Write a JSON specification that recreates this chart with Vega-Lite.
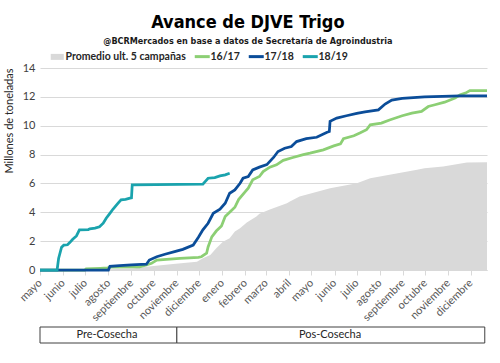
{
  "$schema": "https://vega.github.io/schema/vega-lite/v6.json",
  "background": "white",
  "padding": {"left": 3, "top": 14, "right": 13, "bottom": 14},
  "title": {
    "text": "Avance de DJVE Trigo",
    "subtitle": "@BCRMercados en base a datos de Secretaría de Agroindustria",
    "anchor": "middle",
    "font": "DejaVu Sans Condensed, Roboto, sans-serif",
    "fontSize": 18,
    "fontWeight": "bold",
    "color": "#000000",
    "subtitleFont": "DejaVu Sans Condensed, Roboto, sans-serif",
    "subtitleFontSize": 9,
    "subtitleFontWeight": "bold",
    "subtitleColor": "#1a1a1a",
    "subtitlePadding": 5,
    "offset": 5
  },
  "datasets": {
    "avance": [
      {"serie": "Promedio ult. 5 campañas", "fecha": "2018-05-01", "valor": 0},
      {"serie": "Promedio ult. 5 campañas", "fecha": "2018-07-21", "valor": 0},
      {"serie": "Promedio ult. 5 campañas", "fecha": "2018-08-03", "valor": 0.05},
      {"serie": "Promedio ult. 5 campañas", "fecha": "2018-09-03", "valor": 0.1},
      {"serie": "Promedio ult. 5 campañas", "fecha": "2018-09-21", "valor": 0.23},
      {"serie": "Promedio ult. 5 campañas", "fecha": "2018-10-27", "valor": 0.42},
      {"serie": "Promedio ult. 5 campañas", "fecha": "2018-11-28", "valor": 0.58},
      {"serie": "Promedio ult. 5 campañas", "fecha": "2018-12-06", "valor": 0.81},
      {"serie": "Promedio ult. 5 campañas", "fecha": "2018-12-16", "valor": 1.04},
      {"serie": "Promedio ult. 5 campañas", "fecha": "2018-12-24", "valor": 1.5},
      {"serie": "Promedio ult. 5 campañas", "fecha": "2019-01-02", "valor": 1.96},
      {"serie": "Promedio ult. 5 campañas", "fecha": "2019-01-11", "valor": 2.2},
      {"serie": "Promedio ult. 5 campañas", "fecha": "2019-01-18", "valor": 2.66},
      {"serie": "Promedio ult. 5 campañas", "fecha": "2019-01-25", "valor": 2.89},
      {"serie": "Promedio ult. 5 campañas", "fecha": "2019-02-03", "valor": 3.3},
      {"serie": "Promedio ult. 5 campañas", "fecha": "2019-02-16", "valor": 3.7},
      {"serie": "Promedio ult. 5 campañas", "fecha": "2019-02-20", "valor": 3.9},
      {"serie": "Promedio ult. 5 campañas", "fecha": "2019-03-06", "valor": 4.2},
      {"serie": "Promedio ult. 5 campañas", "fecha": "2019-03-29", "valor": 4.63},
      {"serie": "Promedio ult. 5 campañas", "fecha": "2019-04-02", "valor": 4.75},
      {"serie": "Promedio ult. 5 campañas", "fecha": "2019-04-15", "valor": 5.1},
      {"serie": "Promedio ult. 5 campañas", "fecha": "2019-05-26", "valor": 5.67},
      {"serie": "Promedio ult. 5 campañas", "fecha": "2019-07-01", "valor": 6.01},
      {"serie": "Promedio ult. 5 campañas", "fecha": "2019-07-19", "valor": 6.36},
      {"serie": "Promedio ult. 5 campañas", "fecha": "2019-08-14", "valor": 6.6},
      {"serie": "Promedio ult. 5 campañas", "fecha": "2019-09-20", "valor": 6.94},
      {"serie": "Promedio ult. 5 campañas", "fecha": "2019-09-30", "valor": 7.06},
      {"serie": "Promedio ult. 5 campañas", "fecha": "2019-10-25", "valor": 7.17},
      {"serie": "Promedio ult. 5 campañas", "fecha": "2019-11-26", "valor": 7.45},
      {"serie": "Promedio ult. 5 campañas", "fecha": "2019-12-23", "valor": 7.47},

      {"serie": "16/17", "fecha": "2018-05-01", "valor": 0},
      {"serie": "16/17", "fecha": "2018-06-30", "valor": 0},
      {"serie": "16/17", "fecha": "2018-07-02", "valor": 0.08},
      {"serie": "16/17", "fecha": "2018-07-21", "valor": 0.12},
      {"serie": "16/17", "fecha": "2018-07-31", "valor": 0.15},
      {"serie": "16/17", "fecha": "2018-08-03", "valor": 0.2},
      {"serie": "16/17", "fecha": "2018-09-12", "valor": 0.22},
      {"serie": "16/17", "fecha": "2018-09-21", "valor": 0.35},
      {"serie": "16/17", "fecha": "2018-09-28", "valor": 0.46},
      {"serie": "16/17", "fecha": "2018-10-05", "valor": 0.69},
      {"serie": "16/17", "fecha": "2018-10-18", "valor": 0.74},
      {"serie": "16/17", "fecha": "2018-11-05", "valor": 0.81},
      {"serie": "16/17", "fecha": "2018-11-30", "valor": 0.88},
      {"serie": "16/17", "fecha": "2018-12-04", "valor": 0.92},
      {"serie": "16/17", "fecha": "2018-12-11", "valor": 1.16},
      {"serie": "16/17", "fecha": "2018-12-13", "valor": 1.6},
      {"serie": "16/17", "fecha": "2018-12-18", "valor": 2.3},
      {"serie": "16/17", "fecha": "2018-12-24", "valor": 2.7},
      {"serie": "16/17", "fecha": "2018-12-31", "valor": 3.05},
      {"serie": "16/17", "fecha": "2019-01-05", "valor": 3.7},
      {"serie": "16/17", "fecha": "2019-01-11", "valor": 4.0},
      {"serie": "16/17", "fecha": "2019-01-18", "valor": 4.35},
      {"serie": "16/17", "fecha": "2019-01-23", "valor": 4.88},
      {"serie": "16/17", "fecha": "2019-02-01", "valor": 5.43},
      {"serie": "16/17", "fecha": "2019-02-05", "valor": 5.67},
      {"serie": "16/17", "fecha": "2019-02-11", "valor": 6.25},
      {"serie": "16/17", "fecha": "2019-02-20", "valor": 6.48},
      {"serie": "16/17", "fecha": "2019-02-25", "valor": 6.82},
      {"serie": "16/17", "fecha": "2019-03-06", "valor": 7.13},
      {"serie": "16/17", "fecha": "2019-03-15", "valor": 7.29},
      {"serie": "16/17", "fecha": "2019-03-24", "valor": 7.6},
      {"serie": "16/17", "fecha": "2019-04-06", "valor": 7.8},
      {"serie": "16/17", "fecha": "2019-04-20", "valor": 8.0},
      {"serie": "16/17", "fecha": "2019-04-29", "valor": 8.1},
      {"serie": "16/17", "fecha": "2019-05-17", "valor": 8.33},
      {"serie": "16/17", "fecha": "2019-05-31", "valor": 8.6},
      {"serie": "16/17", "fecha": "2019-06-09", "valor": 8.74},
      {"serie": "16/17", "fecha": "2019-06-13", "valor": 9.1},
      {"serie": "16/17", "fecha": "2019-06-27", "valor": 9.3},
      {"serie": "16/17", "fecha": "2019-07-05", "valor": 9.49},
      {"serie": "16/17", "fecha": "2019-07-14", "valor": 9.72},
      {"serie": "16/17", "fecha": "2019-07-19", "valor": 10.06},
      {"serie": "16/17", "fecha": "2019-08-03", "valor": 10.18},
      {"serie": "16/17", "fecha": "2019-08-14", "valor": 10.4},
      {"serie": "16/17", "fecha": "2019-08-31", "valor": 10.69},
      {"serie": "16/17", "fecha": "2019-09-13", "valor": 10.87},
      {"serie": "16/17", "fecha": "2019-09-26", "valor": 10.99},
      {"serie": "16/17", "fecha": "2019-10-05", "valor": 11.33},
      {"serie": "16/17", "fecha": "2019-10-14", "valor": 11.45},
      {"serie": "16/17", "fecha": "2019-10-27", "valor": 11.63},
      {"serie": "16/17", "fecha": "2019-11-10", "valor": 11.92},
      {"serie": "16/17", "fecha": "2019-11-17", "valor": 12.14},
      {"serie": "16/17", "fecha": "2019-11-24", "valor": 12.26},
      {"serie": "16/17", "fecha": "2019-11-30", "valor": 12.44},
      {"serie": "16/17", "fecha": "2019-12-23", "valor": 12.44},

      {"serie": "17/18", "fecha": "2018-05-01", "valor": 0},
      {"serie": "17/18", "fecha": "2018-08-01", "valor": 0},
      {"serie": "17/18", "fecha": "2018-08-03", "valor": 0.25},
      {"serie": "17/18", "fecha": "2018-08-16", "valor": 0.3},
      {"serie": "17/18", "fecha": "2018-09-01", "valor": 0.35},
      {"serie": "17/18", "fecha": "2018-09-21", "valor": 0.4},
      {"serie": "17/18", "fecha": "2018-09-25", "valor": 0.69},
      {"serie": "17/18", "fecha": "2018-10-05", "valor": 0.92},
      {"serie": "17/18", "fecha": "2018-10-16", "valor": 1.09},
      {"serie": "17/18", "fecha": "2018-10-29", "valor": 1.27},
      {"serie": "17/18", "fecha": "2018-11-09", "valor": 1.43},
      {"serie": "17/18", "fecha": "2018-11-23", "valor": 1.73},
      {"serie": "17/18", "fecha": "2018-11-30", "valor": 2.27},
      {"serie": "17/18", "fecha": "2018-12-06", "valor": 2.78},
      {"serie": "17/18", "fecha": "2018-12-13", "valor": 3.24},
      {"serie": "17/18", "fecha": "2018-12-20", "valor": 3.93},
      {"serie": "17/18", "fecha": "2018-12-29", "valor": 4.21},
      {"serie": "17/18", "fecha": "2019-01-05", "valor": 4.63},
      {"serie": "17/18", "fecha": "2019-01-11", "valor": 5.32},
      {"serie": "17/18", "fecha": "2019-01-18", "valor": 5.55},
      {"serie": "17/18", "fecha": "2019-01-25", "valor": 6.01},
      {"serie": "17/18", "fecha": "2019-01-29", "valor": 6.36},
      {"serie": "17/18", "fecha": "2019-02-05", "valor": 6.48},
      {"serie": "17/18", "fecha": "2019-02-11", "valor": 6.94},
      {"serie": "17/18", "fecha": "2019-02-20", "valor": 7.13},
      {"serie": "17/18", "fecha": "2019-03-02", "valor": 7.3},
      {"serie": "17/18", "fecha": "2019-03-11", "valor": 7.8},
      {"serie": "17/18", "fecha": "2019-03-17", "valor": 8.21},
      {"serie": "17/18", "fecha": "2019-03-26", "valor": 8.44},
      {"serie": "17/18", "fecha": "2019-04-04", "valor": 8.56},
      {"serie": "17/18", "fecha": "2019-04-11", "valor": 8.9},
      {"serie": "17/18", "fecha": "2019-04-24", "valor": 9.1},
      {"serie": "17/18", "fecha": "2019-05-08", "valor": 9.2},
      {"serie": "17/18", "fecha": "2019-05-22", "valor": 9.55},
      {"serie": "17/18", "fecha": "2019-05-25", "valor": 9.6},
      {"serie": "17/18", "fecha": "2019-05-26", "valor": 10.3},
      {"serie": "17/18", "fecha": "2019-06-04", "valor": 10.53},
      {"serie": "17/18", "fecha": "2019-06-17", "valor": 10.69},
      {"serie": "17/18", "fecha": "2019-07-01", "valor": 10.85},
      {"serie": "17/18", "fecha": "2019-07-12", "valor": 10.96},
      {"serie": "17/18", "fecha": "2019-07-30", "valor": 11.1},
      {"serie": "17/18", "fecha": "2019-08-08", "valor": 11.5},
      {"serie": "17/18", "fecha": "2019-08-17", "valor": 11.78},
      {"serie": "17/18", "fecha": "2019-08-31", "valor": 11.9},
      {"serie": "17/18", "fecha": "2019-09-30", "valor": 12.0},
      {"serie": "17/18", "fecha": "2019-11-17", "valor": 12.07},
      {"serie": "17/18", "fecha": "2019-12-23", "valor": 12.07},

      {"serie": "18/19", "fecha": "2018-05-01", "valor": 0},
      {"serie": "18/19", "fecha": "2018-05-24", "valor": 0},
      {"serie": "18/19", "fecha": "2018-05-26", "valor": 0.8},
      {"serie": "18/19", "fecha": "2018-05-30", "valor": 1.58},
      {"serie": "18/19", "fecha": "2018-06-02", "valor": 1.72},
      {"serie": "18/19", "fecha": "2018-06-07", "valor": 1.75},
      {"serie": "18/19", "fecha": "2018-06-10", "valor": 1.9},
      {"serie": "18/19", "fecha": "2018-06-14", "valor": 2.13},
      {"serie": "18/19", "fecha": "2018-06-19", "valor": 2.36},
      {"serie": "18/19", "fecha": "2018-06-23", "valor": 2.78},
      {"serie": "18/19", "fecha": "2018-07-05", "valor": 2.8},
      {"serie": "18/19", "fecha": "2018-07-07", "valor": 2.85},
      {"serie": "18/19", "fecha": "2018-07-14", "valor": 2.9},
      {"serie": "18/19", "fecha": "2018-07-20", "valor": 3.0},
      {"serie": "18/19", "fecha": "2018-07-25", "valor": 3.24},
      {"serie": "18/19", "fecha": "2018-07-29", "valor": 3.59},
      {"serie": "18/19", "fecha": "2018-08-03", "valor": 3.93},
      {"serie": "18/19", "fecha": "2018-08-07", "valor": 4.21},
      {"serie": "18/19", "fecha": "2018-08-14", "valor": 4.63},
      {"serie": "18/19", "fecha": "2018-08-18", "valor": 4.86},
      {"serie": "18/19", "fecha": "2018-08-24", "valor": 4.9},
      {"serie": "18/19", "fecha": "2018-08-30", "valor": 4.98},
      {"serie": "18/19", "fecha": "2018-09-01", "valor": 5.0},
      {"serie": "18/19", "fecha": "2018-09-02", "valor": 5.9},
      {"serie": "18/19", "fecha": "2018-12-06", "valor": 5.95},
      {"serie": "18/19", "fecha": "2018-12-09", "valor": 6.13},
      {"serie": "18/19", "fecha": "2018-12-13", "valor": 6.36},
      {"serie": "18/19", "fecha": "2018-12-22", "valor": 6.4},
      {"serie": "18/19", "fecha": "2018-12-29", "valor": 6.52},
      {"serie": "18/19", "fecha": "2019-01-05", "valor": 6.59},
      {"serie": "18/19", "fecha": "2019-01-11", "valor": 6.7}
    ],
    "fases": [
      {"fase": "Pre-Cosecha", "inicio": "2018-05-01", "fin": "2018-11-01", "centro": "2018-07-30"},
      {"fase": "Pos-Cosecha", "inicio": "2018-11-01", "fin": "2019-12-20", "centro": "2019-05-26"}
    ]
  },
  "spacing": 3,
  "vconcat": [
    {
      "width": 447,
      "height": 202,
      "data": {"name": "avance"},
      "encoding": {
        "x": {
          "field": "fecha",
          "type": "temporal",
          "scale": {"type": "utc", "domain": [{"year": 2018, "month": 5, "date": 1, "utc": true}, {"year": 2019, "month": 12, "date": 23, "utc": true}]},
          "axis": {
            "title": null,
            "tickCount": {"interval": "month", "step": 1},
            "labelExpr": "['enero','febrero','marzo','abril','mayo','junio','julio','agosto','septiembre','octubre','noviembre','diciembre'][utcmonth(datum.value)]",
            "labelAngle": -45,
            "labelAlign": "right",
            "labelBaseline": "middle",
            "labelOverlap": false,
            "labelFlush": false,
            "labelFont": "Lato",
            "labelFontSize": 11,
            "labelColor": "#595959",
            "labelPadding": 6,
            "grid": false,
            "domainColor": "#d9d9d9",
            "tickColor": "#d9d9d9",
            "tickSize": 5
          }
        },
        "y": {
          "field": "valor",
          "type": "quantitative",
          "scale": {"domain": [0, 14]},
          "axis": {
            "title": "Millones de toneladas",
            "titleAnchor": "end",
            "titleFont": "Lato",
            "titleFontSize": 11,
            "titleFontWeight": "normal",
            "titleColor": "#262626",
            "titlePadding": 8,
            "values": [0, 2, 4, 6, 8, 10, 12, 14],
            "labelFont": "Lato",
            "labelFontSize": 11,
            "labelColor": "#404040",
            "labelPadding": 5,
            "domain": false,
            "ticks": false,
            "gridColor": "#d9d9d9",
            "gridWidth": 1
          }
        },
        "color": {
          "field": "serie",
          "type": "nominal",
          "scale": {
            "domain": ["Promedio ult. 5 campañas", "16/17", "17/18", "18/19"],
            "range": ["#d9d9d9", "#8ccf74", "#0b4d99", "#1aa3ad"]
          },
          "legend": {
            "title": null,
            "orient": "none",
            "legendX": 12,
            "legendY": -17,
            "direction": "horizontal",
            "symbolType": "stroke",
            "symbolSize": 225,
            "symbolStrokeWidth": 3,
            "labelFont": "Lato",
            "labelFontSize": 10.5,
            "labelFontWeight": "bold",
            "labelColor": "#262626",
            "columnPadding": 2,
            "labelOffset": 3,
            "padding": 0,
            "encode": {
              "symbols": {
                "update": {
                  "shape": {"signal": "datum.value === 'Promedio ult. 5 campañas' ? 'M-0.87,-0.4H0.87V0.4H-0.87Z' : 'stroke'"},
                  "fill": {"signal": "datum.value === 'Promedio ult. 5 campañas' ? '#d9d9d9' : 'transparent'"},
                  "strokeWidth": {"signal": "datum.value === 'Promedio ult. 5 campañas' ? 0 : 3"}
                }
              }
            }
          }
        }
      },
      "layer": [
        {
          "transform": [{"filter": "datum.serie === 'Promedio ult. 5 campañas'"}],
          "mark": {"type": "area", "opacity": 1}
        },
        {
          "transform": [{"filter": "datum.serie !== 'Promedio ult. 5 campañas'"}],
          "mark": {"type": "line", "strokeWidth": 2.75}
        }
      ]
    },
    {
      "width": 447,
      "height": 16,
      "data": {"name": "fases"},
      "layer": [
        {
          "mark": {"type": "rect", "fill": "white", "stroke": "#404040", "strokeWidth": 1},
          "encoding": {
            "x": {"field": "inicio", "type": "temporal", "scale": {"type": "utc", "domain": [{"year": 2018, "month": 5, "date": 1, "utc": true}, {"year": 2019, "month": 12, "date": 23, "utc": true}]}, "axis": null},
            "x2": {"field": "fin"}
          }
        },
        {
          "mark": {"type": "text", "font": "Lato", "fontSize": 11, "color": "#262626", "baseline": "middle"},
          "encoding": {
            "x": {"field": "centro", "type": "temporal", "axis": null},
            "text": {"field": "fase"}
          }
        }
      ]
    }
  ],
  "config": {"view": {"stroke": null}, "font": "Lato"}
}
